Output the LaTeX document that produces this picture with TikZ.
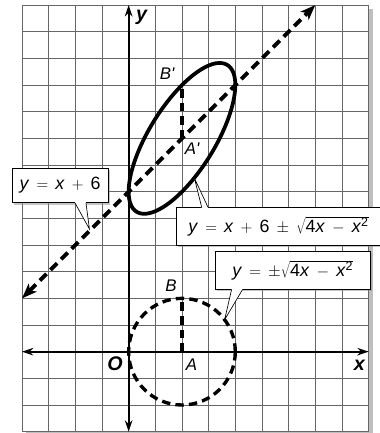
\documentclass[tikz,border=0pt]{standalone}
\usepackage{fontspec}
\setmainfont{Liberation Sans}
\usetikzlibrary{arrows.meta,shadows,calc}

\newcommand{\op}[1]{\hspace{0.4em}$#1$\hspace{0.4em}}

\begin{document}
\begin{tikzpicture}[>={Stealth[length=12pt,width=8pt]}, font=\fontsize{19}{22}\selectfont]
  \tikzset{callbox/.style={draw, line width=0.7pt, fill=white, inner sep=0pt, anchor=north west,
      drop shadow={shadow xshift=2pt, shadow yshift=-2pt, fill=black!45}},
    pointer/.style={line width=0.7pt},
    tag/.style={font=\fontsize{18}{20}\selectfont\itshape},
    axlabel/.style={font=\fontsize{21}{23}\selectfont\bfseries\itshape},
    curve/.style={line width=4pt},
    dashcurve/.style={line width=3.6pt, dash pattern=on 9pt off 5.5pt}}
  \useasboundingbox (-4.825,-3.05) rectangle (9.425,13.19);
  \fill[black!25] (-3.85,-3.15) rectangle (9.15,12.85);
  \fill[white] (-4,-3) rectangle (9,13);
  \draw[black!60, line width=0.9pt] (-4,-3) grid (9,13);

  \coordinate (xl) at (-4,0);
  \coordinate (xr) at (9,0);
  \coordinate (yb) at (0,-3);
  \coordinate (yt) at (0,13);
  \draw[<->, line width=2pt] (xl) -- (xr);
  \draw[<->, line width=2pt] (yb) -- (yt);

  \coordinate (A) at (2,0);
  \coordinate (B) at (2,2);
  \coordinate (Ap) at (2,8);
  \coordinate (Bp) at (2,10);
  \coordinate (L1) at (-4,2);
  \coordinate (L2) at (7,13);

  \draw[dashcurve] (2,0) circle (2);
  \draw[curve, variable=\t, domain=0:360, samples=120, smooth]
    plot ({2-2*cos(\t)}, {8-2*cos(\t)+2*sin(\t)}) -- cycle;
  \draw[dashcurve, line width=4pt] (A) -- (B);
  \draw[dashcurve, line width=4pt] (Ap) -- (Bp);
  \draw[dashcurve, line width=4pt, dash pattern=on 10pt off 6pt,
    {Stealth[length=16pt,width=12pt,inset=4pt]}-{Stealth[length=16pt,width=12pt,inset=4pt]}] (L1) -- (L2);

  \node[axlabel] (ylab) at (0.49,12.54) {y};
  \node[axlabel] (xlab) at (8.65,-0.52) {x};
  \node[axlabel] (olab) at (-0.51,-0.46) {O};
  \node[tag] (alab) at (2.36,-0.5) {A};
  \node[tag] (blab) at (1.59,2.48) {B};
  \node[tag] (aplab) at (2.38,7.6) {A\textquotesingle};
  \node[tag] (bplab) at (1.44,10.41) {B\textquotesingle};

  \node[callbox, minimum width=3.62cm, minimum height=1.29cm] (b1) at (-4.39,6.89)
    {\textit{y}\op{=}\textit{x}\op{+}6};
  \node[callbox, minimum width=7.68cm, minimum height=1.41cm] (b2) at (1.77,5.41)
    {\textit{y}\op{=}\textit{x}\op{+}6\op{\pm}$\sqrt{\mbox{4\textit{x}\op{-}\textit{x}\textsuperscript{2}}}$};
  \node[callbox, minimum width=5.81cm, minimum height=1.44cm] (b3) at (3.24,3.79)
    {\textit{y}\op{=}$\pm\sqrt{\mbox{4\textit{x}\op{-}\textit{x}\textsuperscript{2}}}$};

  \coordinate (t1) at (-1.47,4.6);
  \coordinate (t2) at (2.47,6.5);
  \coordinate (t3) at (3.6,1.2);

  \fill[white] ($(b1.south west)+(2.38,0.05)$) -- ($(b1.south west)+(2.38,0)$) -- (t1)
    -- ($(b1.south west)+(2.79,0)$) -- ($(b1.south west)+(2.79,0.05)$) -- cycle;
  \draw[pointer] ($(b1.south west)+(2.38,0)$) -- (t1) -- ($(b1.south west)+(2.79,0)$);

  \fill[white] ($(b2.north west)+(0.97,-0.05)$) -- ($(b2.north west)+(0.97,0)$) -- (t2)
    -- ($(b2.north west)+(1.21,0)$) -- ($(b2.north west)+(1.21,-0.05)$) -- cycle;
  \draw[pointer] ($(b2.north west)+(0.97,0)$) -- (t2) -- ($(b2.north west)+(1.21,0)$);

  \fill[white] ($(b3.south west)+(0.62,0.05)$) -- ($(b3.south west)+(0.62,0)$) -- (t3)
    -- ($(b3.south west)+(1.03,0)$) -- ($(b3.south west)+(1.03,0.05)$) -- cycle;
  \draw[pointer] ($(b3.south west)+(0.62,0)$) -- (t3) -- ($(b3.south west)+(1.03,0)$);
\end{tikzpicture}
\end{document}
